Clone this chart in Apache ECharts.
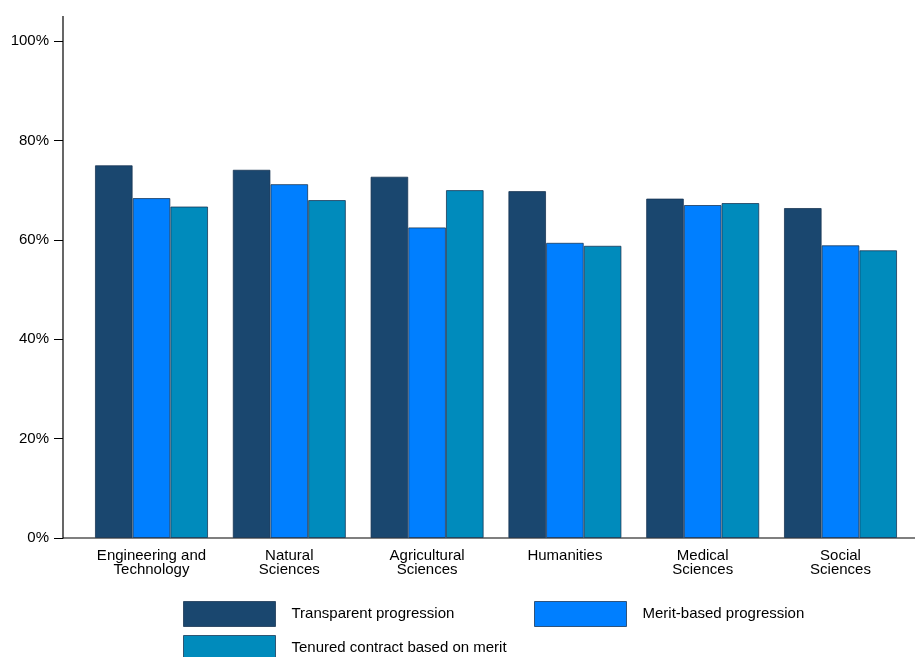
<!DOCTYPE html>
<html><head><meta charset="utf-8">
<script src="https://cdn.jsdelivr.net/npm/echarts@6/dist/echarts.min.js"></script>
<style>html,body{margin:0;padding:0;background:#fff}#c{width:915px;height:657px}</style>
</head><body><div id="c"></div>
<script>
var categories = ['Engineering and\nTechnology','Natural\nSciences','Agricultural\nSciences','Humanities','Medical\nSciences','Social\nSciences'];
var seriesNames = ['Transparent progression','Merit-based progression','Tenured contract based on merit'];
var transparent = [75.0, 74.1, 72.7, 69.8, 68.3, 66.4];
var meritBased = [68.4, 71.2, 62.5, 59.4, 67.0, 58.9];
var tenured = [66.7, 68.0, 70.0, 58.8, 67.4, 57.9];
var yTicks = [0, 20, 40, 60, 80, 100];

var colors = ['#1A476F', '#007FFF', '#008BBC'];
var font = '"Liberation Sans", Arial, sans-serif';
var chart = echarts.init(document.getElementById('c'), null, {renderer:'canvas'});
var vals = [transparent, meritBased, tenured];
var series = seriesNames.map(function(n, i){
  return {
    name: n, type: 'bar', data: vals[i], barWidth: 37.7, barGap: '0%',
    itemStyle: {color: colors[i], borderColor: 'rgba(20,50,80,0.75)', borderWidth: 1},
    emphasis: {disabled: true}
  };
});
var legendPos = [[183,601],[534,601],[183,635]];
var legends = seriesNames.map(function(n, i){
  return {
    data: [n], left: legendPos[i][0], top: legendPos[i][1], itemWidth: 92, itemHeight: 25,
    icon: 'rect', selectedMode: false,
    itemStyle: {borderColor: 'rgba(20,50,80,0.75)', borderWidth: 1},
    textStyle: {fontFamily: font, fontSize: 15, color: '#000', padding: [0,0,0,11]},
    padding: 0
  };
});
chart.setOption({
  animation: false,
  color: colors,
  grid: {left: 82.6, right: 5.6, top: 41, bottom: 119, containLabel: false},
  legend: legends,
  xAxis: {
    type: 'category', data: categories,
    axisLine: {show: false}, axisTick: {show: false},
    axisLabel: {fontFamily: font, fontSize: 15, color: '#000', margin: 11, lineHeight: 14, interval: 0}
  },
  yAxis: {
    type: 'value', min: yTicks[0], max: yTicks[yTicks.length-1], interval: 20, offset: 19.6,
    splitLine: {show: false},
    axisLine: {show: false},
    axisTick: {show: true, length: 9, lineStyle: {color: '#000'}},
    axisLabel: {fontFamily: font, fontSize: 15, color: '#000', margin: 14, formatter: '{value}%', padding: [3,0,0,0]}
  },
  graphic: [
    {type: 'line', shape: {x1: 63, y1: 16, x2: 63, y2: 538.5}, style: {stroke: '#000', lineWidth: 1.2}},
    {type: 'line', shape: {x1: 63, y1: 538, x2: 915, y2: 538}, style: {stroke: '#000', lineWidth: 1.2}}
  ],
  series: series
});
</script></body></html>
